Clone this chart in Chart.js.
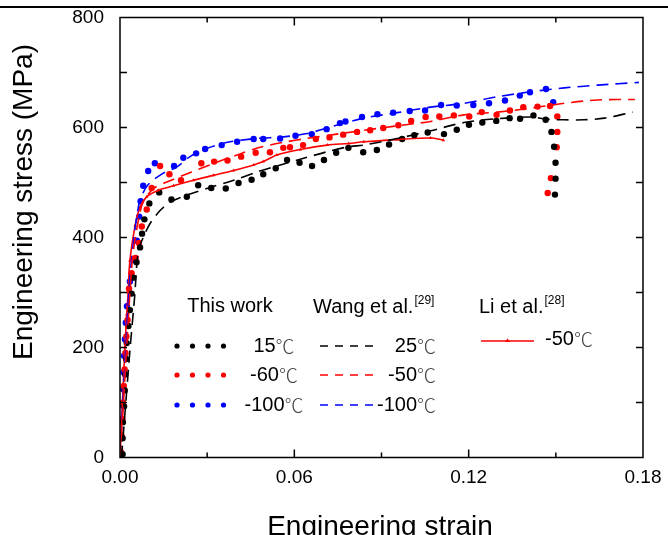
<!DOCTYPE html>
<html>
<head>
<meta charset="utf-8">
<script src="https://cdn.jsdelivr.net/npm/chart.js@4.4.0/dist/chart.umd.min.js"></script>
<style>
  html, body { margin: 0; padding: 0; background: #fff; }
  #wrap { width: 668px; height: 535px; }
</style>
</head>
<body>
<div id="wrap"><canvas id="stressChart" width="668" height="535"></canvas></div>
<script>
// Achsen
const xTicks = [0, 0.06, 0.12, 0.18];
const xMinorTicks = [0.03, 0.06, 0.09, 0.12, 0.15];
const yTicks = [0, 200, 400, 600, 800];
const yMinorTicks = [100, 200, 300, 400, 500, 600, 700];

// This work, 15 °C (Punkte)
const strain15 = [0.0009, 0.0009, 0.001, 0.0014, 0.0016, 0.0018, 0.0021, 0.0023, 0.0029, 0.0034, 0.004, 0.0046, 0.0057, 0.0069, 0.0076, 0.0084, 0.0101, 0.0135, 0.0177, 0.023, 0.0269, 0.0314, 0.0364, 0.0408, 0.0453, 0.0493, 0.0536, 0.0575, 0.0618, 0.0661, 0.0702, 0.0744, 0.0786, 0.0837, 0.0884, 0.0926, 0.0971, 0.1013, 0.1059, 0.1115, 0.1159, 0.1201, 0.1247, 0.1295, 0.1341, 0.1377, 0.1423, 0.1465, 0.1485, 0.1494, 0.1499, 0.1499, 0.1497];
const stress15 = [6, 35, 64, 93, 122, 151, 179, 208, 239, 268, 298, 327, 355, 382, 407, 433, 462, 482, 469, 474, 495, 490, 489, 499, 505, 515, 526, 541, 536, 530, 541, 554, 563, 555, 559, 569, 579, 586, 591, 588, 596, 605, 609, 612, 617, 616, 622, 614, 592, 565, 536, 507, 478];

// This work, -60 °C (Punkte)
const strain60 = [0.0003, 0.0005, 0.0008, 0.001, 0.0013, 0.0016, 0.0019, 0.0022, 0.0026, 0.0031, 0.004, 0.0054, 0.0065, 0.0075, 0.0092, 0.0109, 0.0138, 0.017, 0.021, 0.028, 0.0324, 0.037, 0.0417, 0.0467, 0.0516, 0.0562, 0.0585, 0.063, 0.0674, 0.0721, 0.0768, 0.0816, 0.0861, 0.0906, 0.0958, 0.1002, 0.1052, 0.1099, 0.1149, 0.1202, 0.1245, 0.1296, 0.1342, 0.1388, 0.1437, 0.148, 0.1505, 0.1505, 0.1503, 0.1483, 0.1472];
const stress60 = [10, 40, 70, 100, 130, 160, 190, 220, 250, 307, 335, 363, 390, 420, 451, 490, 530, 515, 504, 535, 538, 540, 547, 554, 555, 563, 564, 568, 579, 582, 587, 592, 595, 599, 604, 612, 619, 620, 622, 620, 628, 623, 631, 637, 638, 639, 620, 592, 564, 508, 481];

// This work, -100 °C (Punkte)
const strain100 = [0.0002, 0.0004, 0.0006, 0.0008, 0.001, 0.0012, 0.0014, 0.0017, 0.002, 0.0024, 0.0034, 0.0048, 0.0058, 0.0066, 0.0071, 0.008, 0.0097, 0.012, 0.0186, 0.0218, 0.0262, 0.0293, 0.035, 0.0403, 0.046, 0.0493, 0.0551, 0.0604, 0.066, 0.0711, 0.0757, 0.0776, 0.0833, 0.0886, 0.094, 0.0997, 0.105, 0.1105, 0.1159, 0.1216, 0.127, 0.1325, 0.1376, 0.1411, 0.1466, 0.1491];
const stress100 = [5, 35, 65, 95, 125, 155, 185, 215, 245, 275, 320, 359, 394, 438, 466, 494, 521, 535, 530, 545, 553, 561, 568, 574, 579, 579, 580, 585, 588, 597, 608, 611, 619, 624, 627, 630, 631, 641, 640, 641, 644, 649, 658, 664, 670, 646];

// Wang et al., 25 °C (gestrichelt)
const wangStrain25 = [0.0005, 0.002, 0.0035, 0.005, 0.0063, 0.008, 0.0103, 0.0138, 0.0172, 0.023, 0.031, 0.0391, 0.0471, 0.0552, 0.0632, 0.0713, 0.0787, 0.0839, 0.0954, 0.1069, 0.1184, 0.1299, 0.1414, 0.1471, 0.1529, 0.1597, 0.1667, 0.1764];
const wangStress25 = [0, 100, 200, 290, 376, 400, 425, 449, 464, 477, 491, 504, 519, 532, 544, 556, 565, 568, 580, 594, 609, 616, 619, 615, 614, 614, 617, 628];

// Wang et al., -50 °C (gestrichelt)
const wangStrain50 = [0, 0.0012, 0.0025, 0.0038, 0.0046, 0.0057, 0.0069, 0.008, 0.0115, 0.0161, 0.0218, 0.0275, 0.0333, 0.0413, 0.0482, 0.0562, 0.0642, 0.0734, 0.0839, 0.0954, 0.1069, 0.1184, 0.1299, 0.1414, 0.1529, 0.1643, 0.1772];
const wangStress50 = [0, 100, 220, 330, 376, 413, 446, 465, 489, 501, 513, 525, 537, 552, 564, 573, 580, 587, 595, 603, 611, 623, 628, 635, 644, 650, 651];

// Wang et al., -100 °C (gestrichelt)
const wangStrain100 = [0, 0.001, 0.002, 0.0033, 0.0048, 0.006, 0.0069, 0.0095, 0.0149, 0.0195, 0.0241, 0.0298, 0.0379, 0.0471, 0.0562, 0.0644, 0.0724, 0.0839, 0.0954, 0.1069, 0.1184, 0.1299, 0.1414, 0.1529, 0.1643, 0.1786];
const wangStress100 = [0, 100, 200, 320, 400, 445, 468, 495, 517, 528, 547, 562, 574, 580, 583, 589, 601, 617, 627, 637, 644, 656, 665, 672, 677, 682];

// Li et al., -50 °C (Linie mit Dreiecken)
const liStrain = [0, 0.0005, 0.0011, 0.0017, 0.0023, 0.0028, 0.0034, 0.0052, 0.0069, 0.0092, 0.0132, 0.0184, 0.0253, 0.0322, 0.0391, 0.046, 0.0493, 0.054, 0.0621, 0.0713, 0.0787, 0.0839, 0.0954, 0.1069, 0.1113];
const liStress = [0, 60, 130, 200, 260, 300, 358, 422, 455, 474, 486, 494, 504, 513, 522, 532, 538, 550, 560, 568, 571, 574, 578, 581, 577];

const RED = '#ff0000';
const BLUE = '#0000ff';
const BLACK = '#000000';
const FONT = '"Liberation Sans", Arial, sans-serif';

function toPoints(xs, ys) {
    return xs.map((v, i) => ({ x: v, y: ys[i] }));
}

function dots(data, color) {
    return { data, showLine: false, pointRadius: 3.2, pointHoverRadius: 3.2,
             pointBackgroundColor: color, pointBorderWidth: 0, borderColor: color };
}

function dashed(data, color) {
    return { data, showLine: true, borderColor: color, borderWidth: 1.6,
             borderDash: [12, 7], pointRadius: 0, tension: 0.3, fill: false };
}

// Rahmen, Ticks nach innen, Achsentitel und Legende von Hand
const decorations = {
    id: 'decorations',
    afterDraw(chart) {
        const { ctx, chartArea: a, scales: { x, y } } = chart;
        ctx.save();

        // Linie am oberen Rand
        ctx.fillStyle = BLACK;
        ctx.fillRect(0, 6, 668, 2);

        ctx.strokeStyle = BLACK;
        ctx.lineWidth = 1.5;
        ctx.strokeRect(a.left, a.top, a.right - a.left, a.bottom - a.top);

        ctx.beginPath();
        xMinorTicks.forEach(v => {
            const px = x.getPixelForValue(v);
            const len = xTicks.includes(v) ? 8 : 5;
            ctx.moveTo(px, a.bottom); ctx.lineTo(px, a.bottom - len);
            ctx.moveTo(px, a.top); ctx.lineTo(px, a.top + len);
        });
        yMinorTicks.forEach(v => {
            const py = y.getPixelForValue(v);
            ctx.moveTo(a.left, py); ctx.lineTo(a.left + 7, py);
            ctx.moveTo(a.right, py); ctx.lineTo(a.right - 7, py);
        });
        ctx.stroke();

        // Achsentitel
        ctx.fillStyle = BLACK;
        ctx.font = '28px ' + FONT;
        ctx.textAlign = 'center';
        ctx.textBaseline = 'alphabetic';
        ctx.fillText('Engineering strain', 380, 535);
        ctx.save();
        ctx.translate(32, 202);
        ctx.rotate(-Math.PI / 2);
        ctx.fillText('Engineering stress (MPa)', 0, 0);
        ctx.restore();

        // Legende
        ctx.textBaseline = 'middle';
        ctx.font = '20px ' + FONT;
        ctx.textAlign = 'center';
        ctx.fillText('This work', 230, 306);

        const sup = (label, ref, left, yy) => {
            ctx.font = '20px ' + FONT;
            ctx.textAlign = 'left';
            ctx.fillText(label, left, yy);
            const w = ctx.measureText(label).width;
            ctx.font = '12px ' + FONT;
            ctx.fillText(ref, left + w + 1, yy - 6);
        };
        sup('Wang et al.', '[29]', 313, 307);
        sup('Li et al.', '[28]', 479, 307);

        // Temperaturtext: Zahl + ℃ in duenner Schrift
        const temp = (num, xx, yy, align) => {
            ctx.font = '20px ' + FONT;
            const w1 = ctx.measureText(num).width;
            ctx.font = '200 19px "Noto Sans CJK SC"';
            const w2 = ctx.measureText('℃').width;
            let left = xx;
            if (align === 'center') left = xx - (w1 + w2) / 2;
            if (align === 'right') left = xx - (w1 + w2);
            ctx.textAlign = 'left';
            ctx.fillStyle = BLACK;
            ctx.font = '20px ' + FONT;
            ctx.fillText(num, left, yy);
            ctx.fillStyle = '#444';
            ctx.font = '200 19px "Noto Sans CJK SC"';
            ctx.fillText('℃', left + w1, yy + 1);
            ctx.fillStyle = BLACK;
        };

        const rows = [
            { y: 346, work: '15', workColor: BLACK, wang: '25', wangColor: BLACK },
            { y: 375, work: '-60', workColor: RED, wang: '-50', wangColor: RED },
            { y: 405, work: '-100', workColor: BLUE, wang: '-100', wangColor: BLUE }
        ];
        rows.forEach(r => {
            ctx.fillStyle = r.workColor;
            [177, 192.5, 208, 223.5].forEach(cx => {
                ctx.beginPath();
                ctx.arc(cx, r.y, 2.6, 0, Math.PI * 2);
                ctx.fill();
            });
            ctx.strokeStyle = r.wangColor;
            ctx.lineWidth = 1.5;
            ctx.setLineDash([8, 7]);
            ctx.beginPath();
            ctx.moveTo(320, r.y); ctx.lineTo(374, r.y);
            ctx.stroke();
            ctx.setLineDash([]);
            temp(r.work, 274, r.y, 'center');
            temp(r.wang, 436, r.y, 'right');
        });

        // Li et al. Legendeneintrag
        ctx.strokeStyle = RED;
        ctx.lineWidth = 1.5;
        ctx.beginPath();
        ctx.moveTo(481, 341); ctx.lineTo(534, 341);
        ctx.stroke();
        ctx.fillStyle = RED;
        ctx.beginPath();
        ctx.moveTo(507.5, 338.5); ctx.lineTo(510, 342); ctx.lineTo(505, 342);
        ctx.closePath();
        ctx.fill();
        temp('-50', 545, 339, 'left');

        ctx.restore();
    }
};

const ctx = document.getElementById('stressChart').getContext('2d');
new Chart(ctx, {
    type: 'scatter',
    data: {
        datasets: [
            dashed(toPoints(wangStrain25, wangStress25), BLACK),
            dashed(toPoints(wangStrain50, wangStress50), RED),
            dashed(toPoints(wangStrain100, wangStress100), BLUE),
            {
                data: toPoints(liStrain, liStress), showLine: true, borderColor: RED,
                borderWidth: 1.6, tension: 0.3, pointStyle: 'triangle', pointRadius: 2,
                pointBackgroundColor: RED, pointBorderWidth: 0
            },
            dots(toPoints(strain15, stress15), BLACK),
            dots(toPoints(strain60, stress60), RED),
            dots(toPoints(strain100, stress100), BLUE)
        ]
    },
    options: {
        responsive: false,
        animation: false,
        devicePixelRatio: 1,
        layout: { padding: { top: 17.5, right: 25, left: 0, bottom: 0 } },
        plugins: { legend: { display: false }, tooltip: { enabled: false } },
        scales: {
            x: {
                type: 'linear', min: 0, max: 0.18,
                grid: { display: false }, border: { display: false },
                afterBuildTicks: s => { s.ticks = xTicks.map(v => ({ value: v })); },
                // feste Hoehe, Ueberhang der Beschriftung ignorieren
                afterFit: s => { s.height = 77.5; s.paddingLeft = 0; s.paddingRight = 0; },
                ticks: {
                    color: BLACK, padding: 1, maxRotation: 0,
                    font: { family: FONT, size: 19 },
                    callback: v => v.toFixed(2)
                }
            },
            y: {
                type: 'linear', min: 0, max: 800,
                grid: { display: false }, border: { display: false },
                afterBuildTicks: s => { s.ticks = yTicks.map(v => ({ value: v })); },
                afterFit: s => { s.width = 120; s.paddingTop = 0; s.paddingBottom = 0; },
                ticks: {
                    color: BLACK, padding: 8,
                    font: { family: FONT, size: 19 }
                }
            }
        }
    },
    plugins: [decorations]
});
</script>
</body>
</html>
